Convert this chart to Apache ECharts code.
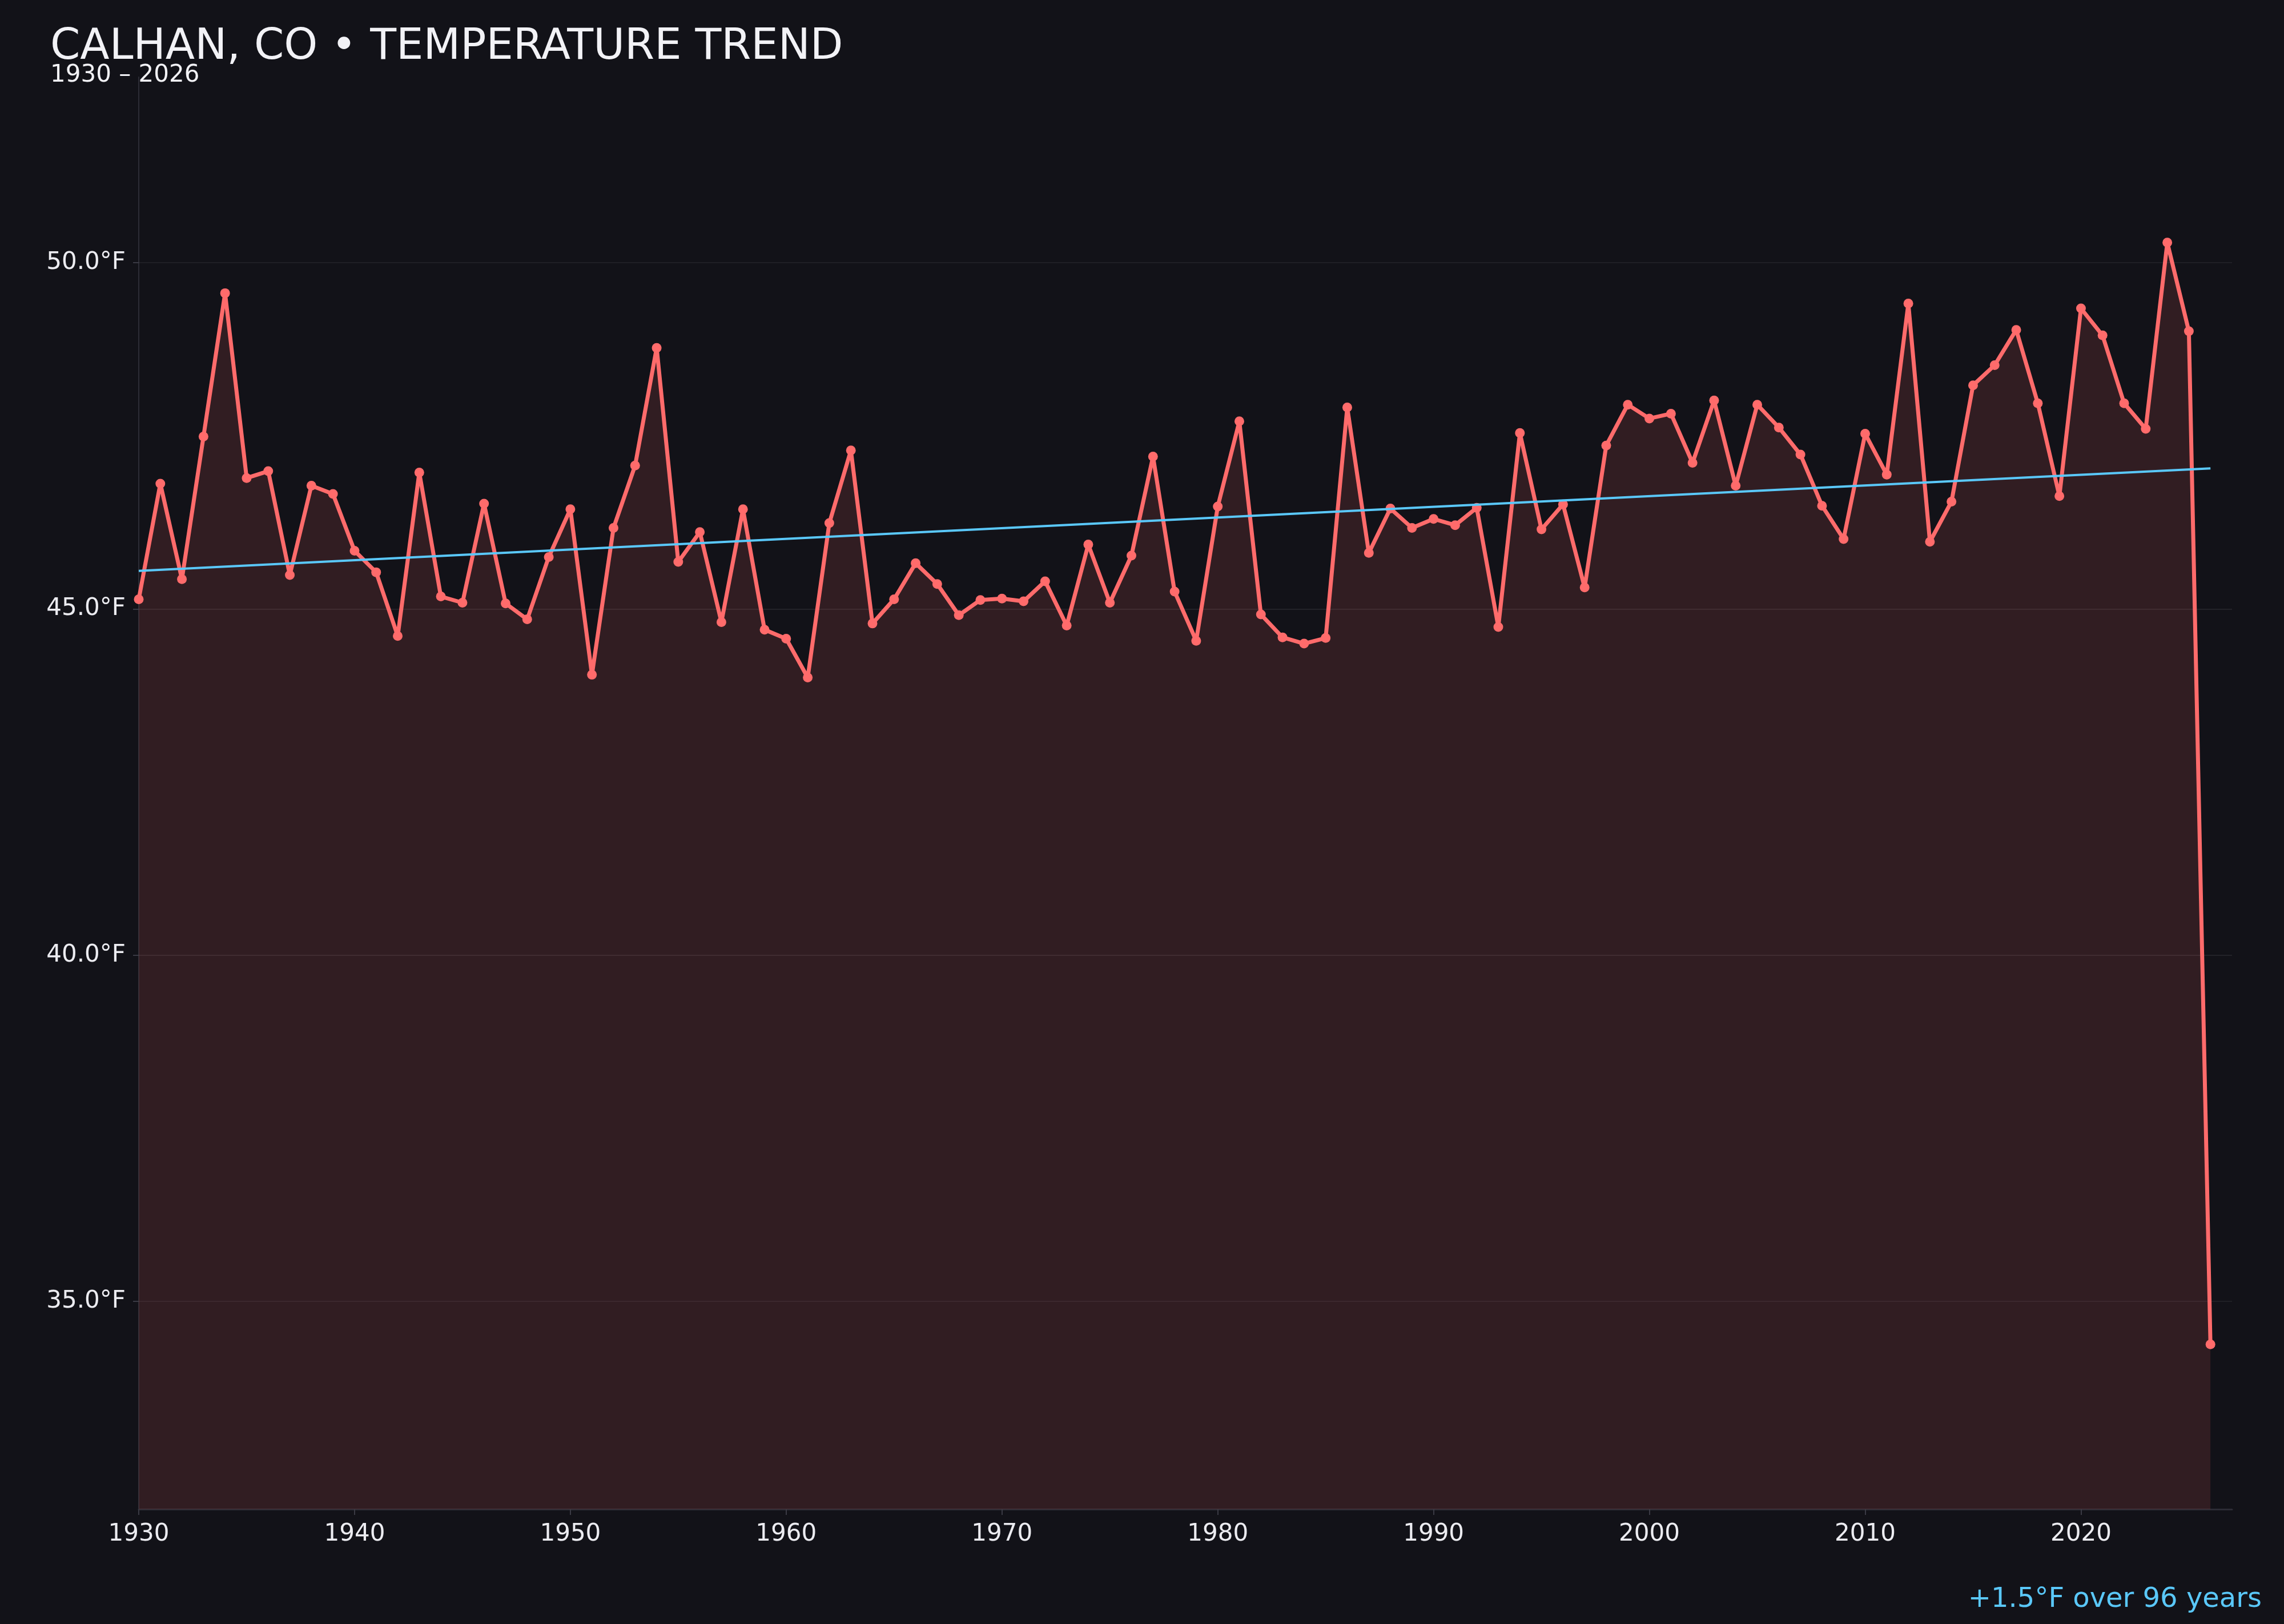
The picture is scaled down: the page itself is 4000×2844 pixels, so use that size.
<!DOCTYPE html>
<html>
<head>
<meta charset="utf-8">
<script src="https://cdn.jsdelivr.net/npm/echarts@6/dist/echarts.min.js"></script>
<style>
html,body{margin:0;padding:0;background:#121218;}
#chart{width:4000px;height:2844px;}
</style>
</head>
<body>
<div id="chart"></div>
<script>
const years = [1930,1931,1932,1933,1934,1935,1936,1937,1938,1939,
  1940,1941,1942,1943,1944,1945,1946,1947,1948,1949,
  1950,1951,1952,1953,1954,1955,1956,1957,1958,1959,
  1960,1961,1962,1963,1964,1965,1966,1967,1968,1969,
  1970,1971,1972,1973,1974,1975,1976,1977,1978,1979,
  1980,1981,1982,1983,1984,1985,1986,1987,1988,1989,
  1990,1991,1992,1993,1994,1995,1996,1997,1998,1999,
  2000,2001,2002,2003,2004,2005,2006,2007,2008,2009,
  2010,2011,2012,2013,2014,2015,2016,2017,2018,2019,
  2020,2021,2022,2023,2024,2025,2026];
const temps = [45.14,46.81,45.43,47.49,49.56,46.89,46.99,45.49,46.78,46.66,
  45.84,45.53,44.61,46.97,45.18,45.09,46.52,45.08,44.85,45.75,
  46.44,44.05,46.17,47.07,48.77,45.68,46.11,44.81,46.44,44.70,
  44.57,44.01,46.24,47.29,44.79,45.14,45.66,45.36,44.91,45.13,
  45.15,45.11,45.40,44.76,45.93,45.09,45.77,47.20,45.25,44.54,
  46.48,47.71,44.92,44.59,44.50,44.58,47.91,45.81,46.45,46.17,
  46.30,46.21,46.46,44.74,47.54,46.15,46.51,45.31,47.36,47.95,
  47.75,47.82,47.11,48.01,46.78,47.95,47.62,47.23,46.49,46.01,
  47.53,46.94,49.41,45.97,46.55,48.23,48.52,49.03,47.97,46.63,
  49.34,48.95,47.97,47.60,50.29,49.01,34.38];
const trendYears = [1930, 2026];
const trendValues = [45.55, 47.03];
const yMajorTicks = [35, 40, 45, 50];
const xTickYears = [1930,1940,1950,1960,1970,1980,1990,2000,2010,2020];
const titleText = 'CALHAN, CO \u2022 TEMPERATURE TREND';
const subtitleText = '1930 \u2013 2026';
const annotationText = '+1.5\u00B0F over 96 years';

const FONT = '"DejaVu Sans", "Noto Sans", sans-serif';
const LINE = '#ff6b6b';
const TREND = '#5ac8fa';
const TEXT = '#ececf1';

const chart = echarts.init(document.getElementById('chart'), null, {renderer:'canvas'});

const isMajor = v => yMajorTicks.some(t => Math.abs(t - v) < 1e-6);
const isXTick = v => xTickYears.some(t => Math.abs(t - v) < 1e-6);

chart.setOption({
  animation: false,
  backgroundColor: '#121218',
  textStyle: {fontFamily: FONT},
  grid: {left: 243, right: 91, top: 135, bottom: 201, containLabel: false},
  graphic: [
    {type:'text', x: 88, y: 46, style: {text: titleText, fill: '#f2f2f6', font: '75px ' + FONT, verticalAlign: 'top', align: 'left'}},
    {type:'text', x: 88, y: 111, style: {text: subtitleText, fill: '#f2f2f6', font: '42px ' + FONT, verticalAlign: 'top', align: 'left'}},
    {type:'text', x: 3961, y: 2778, style: {text: annotationText, fill: TREND, font: '48px ' + FONT, verticalAlign: 'top', align: 'right'}}
  ],
  xAxis: {
    type: 'value', min: 1930, max: 2027, interval: 10,
    axisLine: {show: true, lineStyle: {color: '#2c2c35', width: 3}},
    axisTick: {show: true, length: 10, customValues: xTickYears, lineStyle: {color: '#3a3a44', width: 2}},
    axisLabel: {color: TEXT, fontSize: 42, fontFamily: FONT, margin: 23, customValues: xTickYears,
      formatter: v => isXTick(v) ? String(v) : ''},
    splitLine: {show: false}
  },
  yAxis: {
    type: 'value', min: 32, max: 52.68, interval: 0.5,
    axisLine: {show: true, lineStyle: {color: '#2c2c35', width: 2}},
    axisTick: {show: true, length: 10, customValues: yMajorTicks, lineStyle: {color: '#3a3a44', width: 2}},
    axisLabel: {color: TEXT, fontSize: 42, fontFamily: FONT, margin: 23, customValues: yMajorTicks,
      formatter: v => isMajor(v) ? v.toFixed(1) + '\u00B0F' : ''},
    splitLine: {show: true, showMinLine: false, showMaxLine: false,
      lineStyle: {color: 'rgba(255,255,255,0.018)', width: 2}}
  },
  series: [
    {
      type: 'line', name: 'temp', z: 3,
      data: years.map((y, i) => [y, temps[i]]),
      symbol: 'circle', symbolSize: 17, showSymbol: true, showAllSymbol: true,
      lineStyle: {color: LINE, width: 7},
      itemStyle: {color: LINE},
      areaStyle: {color: 'rgba(255,107,107,0.19)', origin: 'start'},
      emphasis: {disabled: true}
    },
    {
      type: 'line', name: 'trend', z: 4,
      data: trendYears.map((y, i) => [y, trendValues[i]]),
      symbol: 'none',
      lineStyle: {color: TREND, width: 4},
      emphasis: {disabled: true},
      markLine: {
        silent: true, z: 1, symbol: 'none', label: {show: false},
        lineStyle: {color: 'rgba(255,255,255,0.06)', width: 2, type: 'solid'},
        data: yMajorTicks.map(v => ({yAxis: v}))
      }
    }
  ]
});
</script>
</body>
</html>
